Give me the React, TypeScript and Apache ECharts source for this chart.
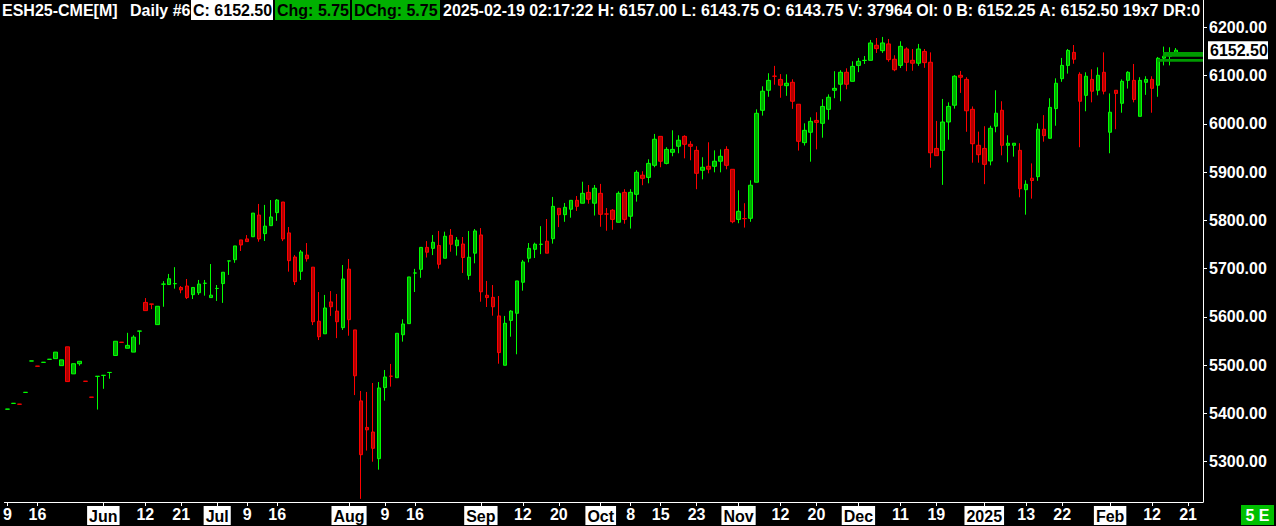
import React, { useEffect, useRef } from "react";
import * as echarts from "echarts";

// ---- data ----
const FIRST_DAY = "2024-05-09";
const TOTAL_SLOTS = 200; // 196 sessions + 4 future slots
const HOLIDAYS = ["2024-05-27", "2024-06-19", "2024-07-04", "2024-09-02", "2024-11-28", "2024-12-25", "2025-01-01", "2025-01-20", "2025-02-17"];

const opens = [
  5408.75, 5420.75, 5419.25, 5443.5, 5508.5, 5498, 5505.75, 5512, 5513.5, 5499,
  5538, 5482, 5503, 5466.75, 5433.75, 5476.75, 5478.75, 5484.75, 5520, 5547.5,
  5535, 5527, 5570.5, 5630, 5626.75, 5584, 5667.75, 5667, 5668.75, 5661,
  5664, 5646, 5650, 5669.5, 5640, 5658.75, 5669, 5715.75, 5718.5, 5759.5,
  5761.5, 5766, 5811, 5772.5, 5789, 5816, 5838, 5774, 5724, 5694.5,
  5728, 5703, 5591, 5565, 5631, 5612, 5577.75, 5699, 5573, 5426,
  5371, 5361.5, 5306.25, 5453.5, 5477.25, 5474, 5563, 5586, 5690.75, 5698.5,
  5744, 5742, 5748, 5721.5, 5769, 5747.5, 5751, 5686, 5732, 5769.75,
  5644.75, 5640.5, 5602, 5499.75, 5592.75, 5607.5, 5671.75, 5721.5, 5740, 5750.25,
  5756.75, 5762, 5825, 5811.75, 5823, 5841.5, 5835.5, 5858, 5835.5, 5856,
  5813.25, 5821, 5796, 5858, 5808.5, 5854, 5893.5, 5889, 5914, 5974,
  5918, 5941, 5953.5, 5974, 5957.5, 5945, 5903.75, 5912, 5912, 5922.5,
  5947, 5905.75, 5802, 5803.75, 5804.25, 5879, 6028, 6069.5, 6098.75, 6092,
  6079, 6086, 6040.5, 5961, 5982.5, 6007, 6001, 6030, 6069.5, 6082,
  6106.75, 6088, 6121, 6131.25, 6131.5, 6162.75, 6151.5, 6165.5, 6133.75, 6121,
  6155, 6131.5, 6125.5, 6150, 6127.5, 5949, 5945, 6003.75, 6038.5, 6100.5,
  6092, 6030, 5955.5, 5949, 5923, 5995, 6028, 5955.5, 5955.5, 5945,
  5863.5, 5887.25, 5890.5, 5988.75, 5970, 6031.5, 6093.5, 6121, 6148, 6102.5,
  6059, 6092, 6069.5, 6106.75, 5982.5, 6069.5, 6042.5, 6090, 6090, 6015.5,
  6086, 6092, 6080, 6136, 6140, 6143.75,
];

const highs = [
  5409, 5421, 5419.25, 5443.75, 5508.75, 5498, 5506, 5512.25, 5527, 5511,
  5538, 5503, 5508, 5466.75, 5433.75, 5477, 5479, 5485, 5549.5, 5547.5,
  5567, 5562, 5570.75, 5639, 5626.75, 5622, 5674, 5689, 5703, 5664,
  5678.5, 5661, 5676.5, 5676.5, 5709.5, 5666, 5692.5, 5716, 5747, 5759.5,
  5769.5, 5815, 5834, 5832, 5842, 5844, 5838, 5786.25, 5728, 5738.5,
  5753, 5703, 5651.5, 5645.5, 5653.5, 5647.5, 5707.5, 5720, 5573, 5446.5,
  5444.5, 5463, 5465, 5490, 5502.5, 5566, 5595, 5682.75, 5699.5, 5744,
  5757, 5769.75, 5778, 5776.5, 5782, 5765.5, 5765.5, 5778, 5782, 5784,
  5674.5, 5666, 5643.25, 5602, 5614, 5674.5, 5718, 5753, 5753.75, 5788,
  5802.75, 5848.5, 5825, 5836, 5841.5, 5850.5, 5880, 5873.25, 5873.25, 5875.5,
  5825.5, 5823.5, 5860, 5864.5, 5864.5, 5903.75, 5901.75, 5926.5, 5979, 5974,
  5951.5, 5986.5, 5976.25, 5976.25, 5964, 5953.5, 5930.75, 5961.75, 5945, 5947,
  5953.5, 5905.75, 5862.25, 5835.5, 5883, 6030, 6077.75, 6104.75, 6120, 6103,
  6102.5, 6092.25, 6040.5, 6001, 6013.5, 6024, 6051, 6061, 6109, 6111,
  6115, 6129.5, 6136.5, 6140.5, 6173.75, 6177.75, 6180, 6175.75, 6142, 6171,
  6158.5, 6155, 6165.5, 6155, 6148, 6006, 6051.5, 6044.5, 6101, 6109.5,
  6096.5, 6036, 5983.75, 5995, 5996, 6069.5, 6046.75, 5976.25, 5959.75, 5959.75,
  5883, 5918, 6001, 6018, 6053, 6094.25, 6136.5, 6155, 6163.25, 6106.75,
  6106.75, 6113, 6117, 6148, 6063, 6069.5, 6092, 6109, 6124, 6096.5,
  6098.5, 6098.5, 6138.5, 6160, 6158.5, 6157,
];

const lows = [
  5408.75, 5420.75, 5419, 5443.5, 5508.5, 5497.75, 5505.75, 5512, 5513.5, 5499,
  5466, 5482, 5499, 5466.5, 5433.5, 5408, 5451, 5472, 5520, 5547.25,
  5535, 5527, 5542.5, 5613, 5616, 5584, 5621, 5667, 5658.5, 5649,
  5637, 5637, 5645.5, 5644, 5640, 5633, 5629, 5687, 5712, 5736.5,
  5756, 5766, 5755.75, 5757.25, 5789, 5799, 5757, 5693.75, 5666, 5676.5,
  5714.5, 5583, 5552, 5565, 5602, 5556, 5573, 5561, 5438, 5223,
  5323, 5300, 5283.5, 5426.5, 5455.5, 5474, 5548.75, 5586, 5651.5, 5681,
  5723, 5728, 5700, 5721.5, 5735, 5727, 5691, 5677, 5711, 5631.5,
  5620.5, 5602.5, 5503, 5499.75, 5559, 5522.5, 5654.25, 5713, 5722, 5730,
  5732, 5751.75, 5786, 5797, 5805.5, 5819.5, 5835.5, 5834.5, 5810, 5786.75,
  5778.5, 5780.5, 5796, 5793, 5783, 5838.75, 5872.75, 5876.75, 5910, 5910,
  5916, 5932.75, 5939, 5928.5, 5924.5, 5864.5, 5885, 5897.5, 5899.5, 5899.5,
  5905.75, 5794, 5794, 5785, 5797, 5879, 6017, 6056, 6081, 6054,
  6058, 6031, 5944.5, 5955, 5921.5, 5947, 5971.25, 6008.5, 6053, 6046.75,
  6071.5, 6088, 6107, 6124, 6131.5, 6146.75, 6147, 6128.75, 6109, 6115.75,
  6109, 6110, 6120, 6116, 5909, 5934, 5873.5, 5967, 6031.5, 6064,
  5983.5, 5919.5, 5919.5, 5875, 5914, 5982.5, 5934.75, 5920.25, 5932, 5847.75,
  5811.75, 5845, 5882, 5963, 5970, 5996, 6087, 6104, 6124.5, 5951.5,
  6026, 6044.5, 6059, 6061, 5939, 5988.75, 6023, 6073, 6044.5, 6015.5,
  6060, 6023, 6056, 6121, 6121, 6143.75,
];

const closes = [
  5409, 5421, 5419, 5443.75, 5508.75, 5497.75, 5506, 5512.25, 5527, 5511,
  5466, 5503, 5508, 5466.5, 5433.5, 5477, 5479, 5485, 5549.5, 5547.25,
  5541, 5558, 5570.75, 5613, 5626.25, 5622, 5668, 5679, 5669, 5656,
  5640, 5661, 5668, 5669.75, 5645, 5659, 5692.5, 5716, 5747, 5749,
  5756, 5815, 5761.5, 5788, 5807, 5842, 5761.5, 5716.5, 5673, 5734.5,
  5720.5, 5590, 5559, 5618.5, 5621, 5590, 5678.5, 5594.25, 5478, 5314.5,
  5366, 5327.75, 5452.75, 5475.5, 5477, 5566, 5585.25, 5682.75, 5691, 5744,
  5734, 5754.5, 5709, 5767, 5750.5, 5759, 5723, 5723.5, 5778, 5652,
  5640, 5621, 5526, 5586.75, 5612, 5674.5, 5713.75, 5742, 5750.5, 5750.5,
  5732, 5829, 5811.75, 5827, 5841.5, 5829, 5856, 5843.75, 5866.5, 5812.5,
  5813, 5802, 5856, 5802, 5858, 5899.5, 5887, 5918, 5968, 5922.5,
  5947, 5947, 5966, 5957.5, 5953.5, 5897.5, 5910, 5906, 5922.5, 5932.75,
  5914, 5797.25, 5818.75, 5803.5, 5872.75, 6021.75, 6067.5, 6090, 6098.5, 6080,
  6084, 6046.75, 5963.75, 5986.5, 6005, 6003, 6036, 6055, 6073.5, 6106.75,
  6082, 6119, 6129.5, 6131.5, 6167.5, 6155.75, 6167.5, 6133, 6112, 6160.5,
  6127.5, 6125.5, 6155, 6126.75, 5940, 5934, 6003.75, 6036, 6098.5, 6096.5,
  6027, 5958.75, 5936, 5916, 5990.75, 6022, 5955.5, 5959.75, 5959.75, 5865.5,
  5874.75, 5882.5, 5988.75, 5975.5, 6034, 6084, 6121, 6152, 6133.75, 6046.75,
  6098.5, 6067.5, 6100.5, 6067.5, 6024, 6063, 6088, 6106.75, 6050.5, 6090,
  6092, 6073.5, 6135.75, 6140, 6146.75, 6152.5,
];

const tickDates = [
  "2024-05-09", "2024-05-16", "2024-06-03", "2024-06-12", "2024-06-21", "2024-07-01", "2024-07-09", "2024-07-16",
  "2024-08-01", "2024-08-09", "2024-08-16", "2024-09-03", "2024-09-12", "2024-09-20", "2024-10-01", "2024-10-08",
  "2024-10-15", "2024-10-23", "2024-11-01", "2024-11-12", "2024-11-20", "2024-12-02", "2024-12-11", "2024-12-19",
  "2025-01-02", "2025-01-13", "2025-01-22", "2025-02-03", "2025-02-12", "2025-02-21",
];
const tickTexts = [
  "9", "16", "Jun", "12", "21", "Jul", "9", "16",
  "Aug", "9", "16", "Sep", "12", "20", "Oct", "8",
  "15", "23", "Nov", "12", "20", "Dec", "11", "19",
  "2025", "13", "22", "Feb", "12", "21",
];
const tickBoxed = [
  false, false, true, false, false, true, false, false,
  true, false, false, true, false, false, true, false,
  false, false, true, false, false, true, false, false,
  true, false, false, true, false, false,
];

const priceTicks = [5300, 5400, 5500, 5600, 5700, 5800, 5900, 6000, 6100, 6200];
const lastPrice = 6152.5;
const markerLevels = [6143.75, 6131.5];

const headerParts = [
  { text: "ESH25-CME[M]", kind: "plain" },
  { text: "Daily #6", kind: "plain" },
  { text: "C: 6152.50", kind: "white" },
  { text: "Chg: 5.75", kind: "green" },
  { text: "DChg: 5.75", kind: "green" },
  { text: "2025-02-19 02:17:22 H: 6157.00 L: 6143.75 O: 6143.75 V: 37964 OI: 0 B: 6152.25 A: 6152.50 19x7 DR:0", kind: "plain" },
];
const headerX = [2, 130, 191, 275, 352, 443];
const headerW = [0, 0, 82, 75, 88, 0];

// ---- helpers ----
function buildDates(start: string, count: number, skip: string[]): string[] {
  const out: string[] = [];
  const d = new Date(start + "T00:00:00Z");
  while (out.length < count) {
    const dow = d.getUTCDay();
    const s = d.toISOString().slice(0, 10);
    if (dow !== 0 && dow !== 6 && skip.indexOf(s) < 0) out.push(s);
    d.setUTCDate(d.getUTCDate() + 1);
  }
  return out;
}

const FONT = "'Liberation Sans', Arial, sans-serif";
const GREEN_BOX = "#00b000";

export default function App() {
  const ref = useRef<HTMLDivElement>(null);

  useEffect(() => {
    const el = ref.current;
    if (!el) return;
    const dates = buildDates(FIRST_DAY, TOTAL_SLOTS, HOLIDAYS);
    const candles = opens.map((o, i) => [o, closes[i], lows[i], highs[i]]);
    const tickSet: Record<string, number> = {};
    tickDates.forEach((d, i) => (tickSet[d] = i));
    const showTick = (_i: number, v: string) => tickSet[v] !== undefined;

    const chart = echarts.init(el, null, { renderer: "svg" });
    chart.setOption({
      animation: false,
      backgroundColor: "#000000",
      grid: { left: 3, width: 1200, top: 0, bottom: 24, containLabel: false },
      xAxis: {
        type: "category",
        data: dates,
        boundaryGap: true,
        axisLine: { show: true, onZero: false, lineStyle: { color: "#ffffff", width: 1 } },
        axisTick: { show: true, interval: showTick, alignWithLabel: true, length: 4, lineStyle: { color: "#ffffff" } },
        splitLine: { show: false },
        axisLabel: {
          show: true,
          interval: showTick,
          margin: 4,
          color: "#ffffff",
          fontFamily: FONT,
          fontWeight: "bold",
          fontSize: 16,
          formatter: (v: string) => {
            const k = tickSet[v];
            if (k === undefined) return "";
            return tickBoxed[k] ? "{b|" + tickTexts[k] + "}" : "{d|" + tickTexts[k] + "}";
          },
          rich: {
            b: { backgroundColor: "#ffffff", color: "#000000", fontFamily: FONT, fontWeight: "bold", fontSize: 16, padding: [2, 2, 1, 2] },
            d: { color: "#ffffff", fontFamily: FONT, fontWeight: "bold", fontSize: 16 },
          },
        },
      },
      yAxis: {
        type: "value",
        position: "right",
        min: 5216.5,
        max: 6256.5,
        scale: true,
        splitLine: { show: false },
        axisLine: { show: true, lineStyle: { color: "#ffffff", width: 1 } },
        axisTick: { show: true, length: 4, customValues: priceTicks, lineStyle: { color: "#ffffff" } },
        axisLabel: {
          show: true,
          customValues: priceTicks,
          margin: 6,
          color: "#ffffff",
          fontFamily: FONT,
          fontWeight: "bold",
          fontSize: 16,
          formatter: (v: number) => v.toFixed(2),
        },
      },
      series: [
        {
          type: "candlestick",
          data: candles,
          barWidth: 4,
          itemStyle: {
            color: "#00a800",
            color0: "#b00000",
            borderColor: "#00ff00",
            borderColor0: "#ff0000",
            borderWidth: 1,
          },
        },
      ],
    });

    const yOf = (v: number) => chart.convertToPixel({ yAxisIndex: 0 }, v) as number;
    const xOf = (d: string) => chart.convertToPixel({ xAxisIndex: 0 }, d) as number;
    const rightEdge = 1203;

    const graphics: any[] = [];
    headerParts.forEach((p, i) => {
      if (p.kind !== "plain") {
        graphics.push({
          type: "rect",
          shape: { x: headerX[i], y: 0, width: headerW[i], height: 20 },
          style: { fill: p.kind === "white" ? "#ffffff" : GREEN_BOX },
          z: 10,
        });
      }
      graphics.push({
        type: "text",
        x: headerX[i] + (p.kind === "plain" ? 0 : 2),
        y: 10,
        style: {
          text: p.text,
          fill: p.kind === "plain" ? "#ffffff" : "#000000",
          font: "bold 16px " + FONT,
          textVerticalAlign: "middle",
          textAlign: "left",
        },
        z: 11,
      });
    });

    // bid/ask marker bands
    const yb1 = yOf(markerLevels[0]);
    const yb2 = yOf(markerLevels[1]);
    const x1 = xOf(dates[193]) - 1;
    const x2 = xOf(dates[192]) - 1;
    graphics.push({ type: "rect", shape: { x: x1, y: yb1 - 2.3, width: rightEdge - x1, height: 4.6 }, style: { fill: "#009a00" }, z: 5 });
    graphics.push({ type: "rect", shape: { x: x2, y: yb2 - 1.4, width: rightEdge - x2, height: 2.8 }, style: { fill: "#009a00" }, z: 5 });

    // last price label on scale
    const yl = yOf(lastPrice);
    graphics.push({ type: "rect", shape: { x: 1208, y: yl - 9, width: 60, height: 18 }, style: { fill: "#ffffff" }, z: 12 });
    graphics.push({
      type: "text",
      x: 1210,
      y: yl,
      style: { text: lastPrice.toFixed(2), fill: "#000000", font: "bold 16px " + FONT, textVerticalAlign: "middle" },
      z: 13,
    });

    // "5 E" badge
    graphics.push({ type: "rect", shape: { x: 1241, y: 505, width: 33, height: 20 }, style: { fill: "#00c000" }, z: 12 });
    graphics.push({
      type: "text",
      x: 1257.5,
      y: 515,
      style: { text: "5 E", fill: "#ffffff", font: "bold 16px " + FONT, textAlign: "center", textVerticalAlign: "middle" },
      z: 13,
    });

    chart.setOption({ graphic: graphics });

    return () => chart.dispose();
  }, []);

  return <div ref={ref} style={{ position: "fixed", left: 0, top: 0, width: 1276, height: 526 }} />;
}
